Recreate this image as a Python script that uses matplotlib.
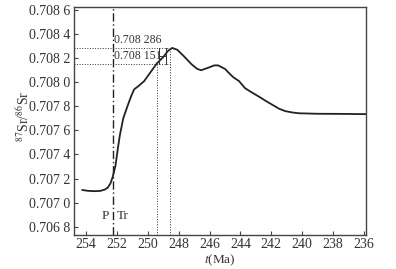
import matplotlib
matplotlib.use('Agg')
import matplotlib.pyplot as plt
import matplotlib.ticker as mticker

# Sr isotope curve (age in Ma, 87Sr/86Sr)
age = [254.25, 253.9, 253.5, 253.1, 252.8, 252.6, 252.43, 252.28, 252.1, 251.95,
       251.82, 251.6, 251.33, 251.1, 250.9, 250.6, 250.24, 249.85, 249.43, 249.0,
       248.7, 248.43, 248.1, 247.7, 247.18, 246.8, 246.55, 246.1, 245.7, 245.45,
       245.0, 244.7, 244.45, 244.1, 243.7, 243.2, 242.8, 242.3, 241.9, 241.5,
       241.1, 240.6, 240.2, 239.0, 237.5, 235.9]
sr = [0.707105, 0.707098, 0.707095, 0.707097, 0.707108, 0.707125, 0.70716, 0.707215, 0.70731, 0.70745,
      0.70756, 0.70770, 0.70780, 0.70788, 0.70794, 0.70797, 0.70801, 0.70808, 0.708155, 0.70821,
      0.70826, 0.708285, 0.70827, 0.70822, 0.70815, 0.70811, 0.70810, 0.70812, 0.70814, 0.70814,
      0.70811, 0.70807, 0.70804, 0.70801, 0.70795, 0.70791, 0.70788, 0.70784, 0.70781, 0.70778,
      0.70776, 0.707748, 0.707742, 0.707738, 0.707737, 0.707735]

boundary_age = 252.25
ref_ages = [249.43, 248.6]
ref_values = [0.708286, 0.708151]
err_ages = [249.26, 248.82]
err_mid = 0.708218

xticks = [254, 252, 250, 248, 246, 244, 242, 240, 238, 236]
yticks = [0.7068, 0.7070, 0.7072, 0.7074, 0.7076, 0.7078, 0.7080, 0.7082, 0.7084, 0.7086]

plt.rcParams['font.family'] = 'serif'
plt.rcParams['font.serif'] = ['Liberation Serif', 'DejaVu Serif']
plt.rcParams['mathtext.fontset'] = 'stix'

fig = plt.figure(figsize=(3.96, 2.69), dpi=100)
ax = fig.add_axes([0.187, 0.126, 0.737, 0.848])

txt = '#333333'
ax.plot(age, sr, color='#222222', lw=1.3)

# P/Tr boundary
ax.axvline(boundary_age, color='#222222', lw=1.0, ls=(0, (6, 2, 1, 2)))

# reference dotted lines
ax.plot([254.8, 248.6], [ref_values[0]] * 2, color='#333333', lw=0.7, ls=':')
ax.plot([254.8, 248.6], [ref_values[1]] * 2, color='#333333', lw=0.7, ls=':')
ax.plot([ref_ages[0]] * 2, [0.70673, ref_values[1]], color='#333333', lw=0.7, ls=':')
ax.plot([ref_ages[1]] * 2, [0.70673, ref_values[0]], color='#333333', lw=0.7, ls=':')

# error bar marker
for a in err_ages:
    ax.plot([a, a], [ref_values[1], ref_values[0]], color='#333333', lw=0.7)
ax.plot(err_ages, [err_mid, err_mid], color='#333333', lw=0.7)

ax.text(252.2, 0.708305, '0.708 286', fontsize=8.5, color=txt, va='bottom', ha='left')
ax.text(252.2, 0.708165, '0.708 151', fontsize=8.5, color=txt, va='bottom', ha='left')
ax.text(252.5, 0.70689, 'P', fontsize=9.5, color=txt, ha='right', va='center')
ax.text(252.0, 0.70689, 'Tr', fontsize=9.5, color=txt, ha='left', va='center')

ax.set_xlim(254.79, 235.87)
ax.set_ylim(0.70673, 0.708625)
ax.set_xticks(xticks)
ax.set_yticks(yticks)
ax.yaxis.set_major_formatter(mticker.FuncFormatter(
    lambda v, p: '%.3f %d' % (int(v * 1000 + 1e-6) / 1000, round(v * 10000) % 10)))
ax.tick_params(direction='in', length=3, width=0.8, labelsize=10, colors='#444444',
               labelcolor=txt, pad=3)
ax.tick_params(axis='x', pad=2)
for s in ax.spines.values():
    s.set_color('#444444')
    s.set_linewidth(1.0)

ax.set_xlabel('$t$(Ma)', fontsize=9.5, color=txt)
ax.xaxis.set_label_coords(0.5, -0.077)
ax.set_ylabel('$^{87}$Sr/$^{86}$Sr', fontsize=10, color=txt)
ax.yaxis.set_label_coords(-0.145, 0.52)

fig.savefig('out.png', dpi=100)
